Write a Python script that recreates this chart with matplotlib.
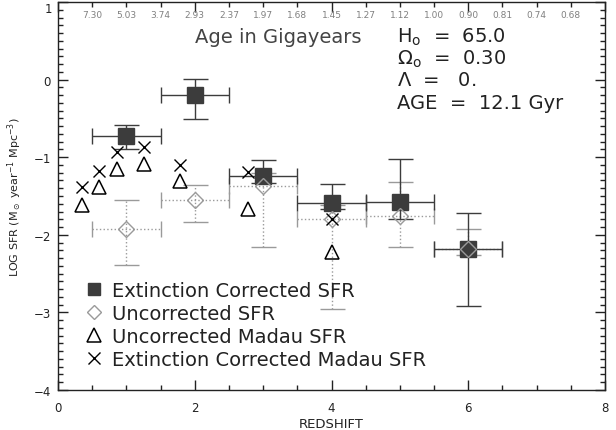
import matplotlib.pyplot as plt
import matplotlib.ticker as ticker
from matplotlib.lines import Line2D
import numpy as np

# extinction corrected SFR (filled squares)
z_bins = [1.0, 2.0, 3.0, 4.0, 5.0, 6.0]
z_halfwidth = [0.5, 0.5, 0.5, 0.5, 0.5, 0.5]
sfr_ext = [-0.73, -0.20, -1.24, -1.59, -1.58, -2.18]
sfr_ext_up = [0.15, 0.21, 0.21, 0.24, 0.56, 0.46]
sfr_ext_lo = [0.17, 0.31, 0.09, 0.08, 0.22, 0.74]

# uncorrected SFR (open diamonds)
sfr_unc = [-1.93, -1.55, -1.37, -1.80, -1.76, -2.18]
sfr_unc_up = [0.38, 0.19, 0.17, 0.18, 0.44, 0.26]
sfr_unc_lo = [0.46, 0.28, 0.79, 1.16, 0.40, 0.08]

# Madau points
z_madau = [0.35, 0.60, 0.86, 1.26, 1.78, 2.78, 4.0]
sfr_madau = [-1.61, -1.38, -1.15, -1.09, -1.31, -1.67, -2.22]
sfr_madau_ext = [-1.38, -1.18, -0.93, -0.87, -1.10, -1.19, -1.80]

# age axis (top)
age_z = [0.5, 1.0, 1.5, 2.0, 2.5, 3.0, 3.5, 4.0, 4.5, 5.0, 5.5, 6.0, 6.5, 7.0, 7.5]
age_labels = ['7.30', '5.03', '3.74', '2.93', '2.37', '1.97', '1.68', '1.45',
              '1.27', '1.12', '1.00', '0.90', '0.81', '0.74', '0.68']

legend_labels = ['Extinction Corrected SFR', 'Uncorrected SFR',
                 'Uncorrected Madau SFR', 'Extinction Corrected Madau SFR']

cosmo_lines = [r'H$_{\rm o}$  =  65.0', r'$\Omega_{\rm o}$  =  0.30',
               r'$\Lambda$  =   0.', 'AGE  =  12.1 Gyr']
cosmo_y = [0.56, 0.275, -0.005, -0.29]

txt = '#222222'
dark = '#3c3c3c'
grey = '#9a9a9a'

plt.rcParams['font.family'] = 'DejaVu Sans'
plt.rcParams['mathtext.fontset'] = 'dejavusans'

fig = plt.figure(figsize=(6.16, 4.31), dpi=100)
ax = fig.add_axes([58 / 616, 40 / 431, 547 / 616, 388 / 431])

# uncorrected SFR, dotted grey error bars
for capsize, kw in [(6, dict(xerr=z_halfwidth)), (9, dict(yerr=[sfr_unc_lo, sfr_unc_up]))]:
    eb = ax.errorbar(z_bins, sfr_unc, fmt='none', ecolor=grey, elinewidth=1,
                     capsize=capsize, capthick=1, zorder=2, **kw)
    eb[2][0].set_linestyle(':')

# extinction corrected SFR, solid dark error bars
for capsize, kw in [(6, dict(xerr=z_halfwidth)), (9, dict(yerr=[sfr_ext_lo, sfr_ext_up]))]:
    ax.errorbar(z_bins, sfr_ext, fmt='none', ecolor=dark, elinewidth=1,
                capsize=capsize, capthick=1, zorder=3, **kw)

ax.plot(z_bins, sfr_ext, 's', ms=11, color=dark, mec=dark, zorder=4)
ax.plot(z_bins, sfr_unc, 'D', ms=8, mfc='none', mec=grey, mew=1, zorder=5)
ax.plot(z_madau, sfr_madau, '^', ms=10, mfc='none', mec='black', mew=1.1, zorder=5)
ax.plot(z_madau, sfr_madau_ext, 'x', ms=9, color='black', mew=1, zorder=5)

ax.set_xlim(0, 8)
ax.set_ylim(-4, 1)
ax.xaxis.set_major_locator(ticker.MultipleLocator(2))
ax.xaxis.set_minor_locator(ticker.MultipleLocator(0.5))
ax.yaxis.set_major_locator(ticker.MultipleLocator(1))
ax.yaxis.set_minor_locator(ticker.MultipleLocator(0.1))
# top label "1" is drawn separately so it stays inside the picture
ax.yaxis.set_major_formatter(ticker.FuncFormatter(
    lambda v, p: '' if v > 0.5 else f'{int(round(v))}'.replace('-', '\u2212')))
ax.text(-0.011, 1.0, '1', transform=ax.get_yaxis_transform(), ha='right', va='top',
        fontsize=8.5, color=txt)
ax.tick_params(which='both', direction='in', top=True, right=True, colors=txt,
               labelsize=8.5, width=1)
ax.tick_params(which='major', length=7)
ax.tick_params(which='minor', length=3.5)
ax.tick_params(axis='x', pad=8)
ax.tick_params(axis='y', pad=5)
for s in ax.spines.values():
    s.set_color(txt)
    s.set_linewidth(1)

ax.set_xlabel('REDSHIFT', fontsize=9.5, color=txt, labelpad=2)
ax.set_ylabel(r'LOG SFR (M$_\odot$ year$^{-1}$ Mpc$^{-3}$)', fontsize=8, color=txt)
ax.yaxis.set_label_coords(-0.062, 0.5)

# age labels along the top, inside the frame
for z, lab in zip(age_z, age_labels):
    ax.text(z, 0.967, lab, transform=ax.get_xaxis_transform(), ha='center',
            va='center', fontsize=6.5, color='#808080')

ax.text(2.0, 0.56, 'Age in Gigayears', fontsize=14, color='#444444', va='center')
for line, yv in zip(cosmo_lines, cosmo_y):
    ax.text(4.96, yv, line, fontsize=14, color=txt, va='center')

handles = [
    Line2D([], [], ls='none', marker='s', ms=8, color=dark),
    Line2D([], [], ls='none', marker='D', ms=7, mfc='none', mec=grey),
    Line2D([], [], ls='none', marker='^', ms=10, mfc='none', mec='black', mew=1.1),
    Line2D([], [], ls='none', marker='x', ms=9, color='black', mew=1),
]
leg = ax.legend(handles, legend_labels, loc='lower left', bbox_to_anchor=(0.033, 0.035),
                frameon=False, fontsize=14, handlelength=1.0, handletextpad=0.45,
                labelspacing=0.2, borderaxespad=0)
for t in leg.get_texts():
    t.set_color(txt)

fig.savefig('out.png', dpi=100)
